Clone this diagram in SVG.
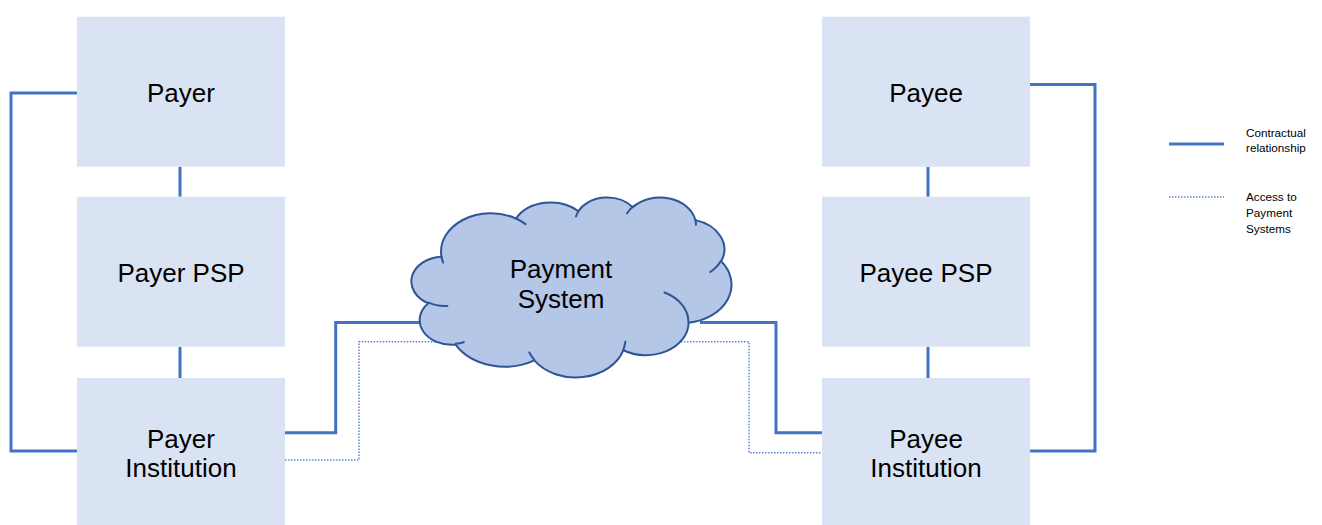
<svg xmlns="http://www.w3.org/2000/svg" width="1322" height="525" viewBox="0 0 1322 525">
  <style>
    .box { fill: #DAE3F3; }
    .lbl { font-family: "Liberation Sans", Arial, sans-serif; font-size: 26px; fill: #000; text-anchor: middle; }
    .leg { font-family: "Liberation Sans", Arial, sans-serif; font-size: 11.7px; fill: #000; }
    .solid { fill: none; stroke: #4472C4; stroke-width: 3; }
    .dot { fill: none; stroke: #4472C4; stroke-width: 1.5; stroke-dasharray: 1.5 1.5; opacity: 0.85; }
    .cloud { fill: #B4C7E7; stroke: #2F5597; stroke-width: 2; stroke-linejoin: round; vector-effect: non-scaling-stroke; }
    .tail { fill: none; stroke: #2F5597; stroke-width: 2; stroke-linecap: round; vector-effect: non-scaling-stroke; }
  </style>

  <rect width="1322" height="525" fill="#FFFFFF"/>

  <!-- connectors -->
  <g id="connectors">
    <!-- payer side contractual bracket -->
    <path class="solid" d="M 77,93 H 11 V 451 H 77"/>
    <!-- payee side contractual bracket -->
    <path class="solid" d="M 1030,84.5 H 1095 V 451 H 1030"/>
    <!-- vertical links within each column -->
    <path class="solid" d="M 180,166.7 V 196.7 M 180,346.7 V 378"/>
    <path class="solid" d="M 928,166.7 V 196.7 M 928,346.7 V 378"/>
    <!-- institutions to payment system -->
    <path class="solid" d="M 285,432.7 H 335.7 V 322.5 H 425"/>
    <path class="solid" d="M 700,322.5 H 776 V 432.7 H 822"/>
    <path class="dot" d="M 285,460 H 359 V 341.7 H 442"/>
    <path class="dot" d="M 678,341.7 H 749 V 452.7 H 822"/>
  </g>

  <!-- payer column -->
  <g id="payer">
    <rect class="box" x="77" y="16.7" width="208" height="150"/>
    <text class="lbl" x="181" y="101.7">Payer</text>
  </g>
  <g id="payer-psp">
    <rect class="box" x="77" y="196.7" width="208" height="150"/>
    <text class="lbl" x="181" y="282.3">Payer PSP</text>
  </g>
  <g id="payer-institution">
    <rect class="box" x="77" y="378" width="208" height="150"/>
    <text class="lbl" x="181" y="447.5">Payer</text>
    <text class="lbl" x="181" y="476.5">Institution</text>
  </g>

  <!-- payee column -->
  <g id="payee">
    <rect class="box" x="822" y="16.7" width="208" height="150"/>
    <text class="lbl" x="926" y="101.7">Payee</text>
  </g>
  <g id="payee-psp">
    <rect class="box" x="822" y="196.7" width="208" height="150"/>
    <text class="lbl" x="926" y="282.3">Payee PSP</text>
  </g>
  <g id="payee-institution">
    <rect class="box" x="822" y="378" width="208" height="150"/>
    <text class="lbl" x="926" y="447.5">Payee</text>
    <text class="lbl" x="926" y="476.5">Institution</text>
  </g>

  <!-- payment system cloud, outline in 43200-unit shape space -->
  <g id="payment-system">
    <g transform="translate(412.74,196.90) scale(0.0073749,0.0041650)">
      <path class="cloud" d="M 3900,14370
        A 6753 9190 0 0 1 14005,5202
        A 5333 7267 0 0 1 22458,3434
        A 4365 5945 0 0 1 29836,2485
        A 4857 6595 0 0 1 38321,5580
        A 5333 7273 0 0 1 41822,15464
        A 6775 9220 0 0 1 37406,30204
        A 5785 7867 0 0 1 28558,36814
        A 6752 9215 0 0 1 16483,39268
        A 7720 10543 0 0 1 5808,35475
        A 4360 5918 0 0 1 2116,25553
        A 4345 5945 0 0 1 3900,14370 Z"/>
      <path class="tail" d="M 4693,26177 A 4345 5945 0 0 1 2160,25380
        M 6928,34899 A 4360 5918 0 0 1 5820,35281
        M 16478,39090 A 6752 9215 0 0 1 15809,37348
        M 28827,34751 A 6752 9215 0 0 1 28561,36659
        M 34129,22954 A 5785 7867 0 0 1 37381,30090
        M 41798,15354 A 5333 7273 0 0 1 40350,18030
        M 38324,5426 A 4857 6595 0 0 1 38400,6690
        M 29078,3952 A 4857 6595 0 0 1 29820,2340
        M 22141,4720 A 4365 5945 0 0 1 22500,3330
        M 14000,5192 A 6753 9190 0 0 1 15302,6544
        M 4127,15789 A 6753 9190 0 0 1 3900,14371"/>
    </g>
    <text class="lbl" x="561" y="278">Payment</text>
    <text class="lbl" x="561" y="308">System</text>
  </g>

  <!-- legend -->
  <g id="legend">
    <line class="solid" x1="1169" y1="144" x2="1224" y2="144" stroke-width="2.5"/>
    <text class="leg" x="1246" y="136.5">Contractual</text>
    <text class="leg" x="1246" y="152.3">relationship</text>
    <line class="dot" x1="1169" y1="197" x2="1224" y2="197" stroke-width="2"/>
    <text class="leg" x="1246" y="201.3">Access to</text>
    <text class="leg" x="1246" y="217">Payment</text>
    <text class="leg" x="1246" y="232.7">Systems</text>
  </g>
</svg>
